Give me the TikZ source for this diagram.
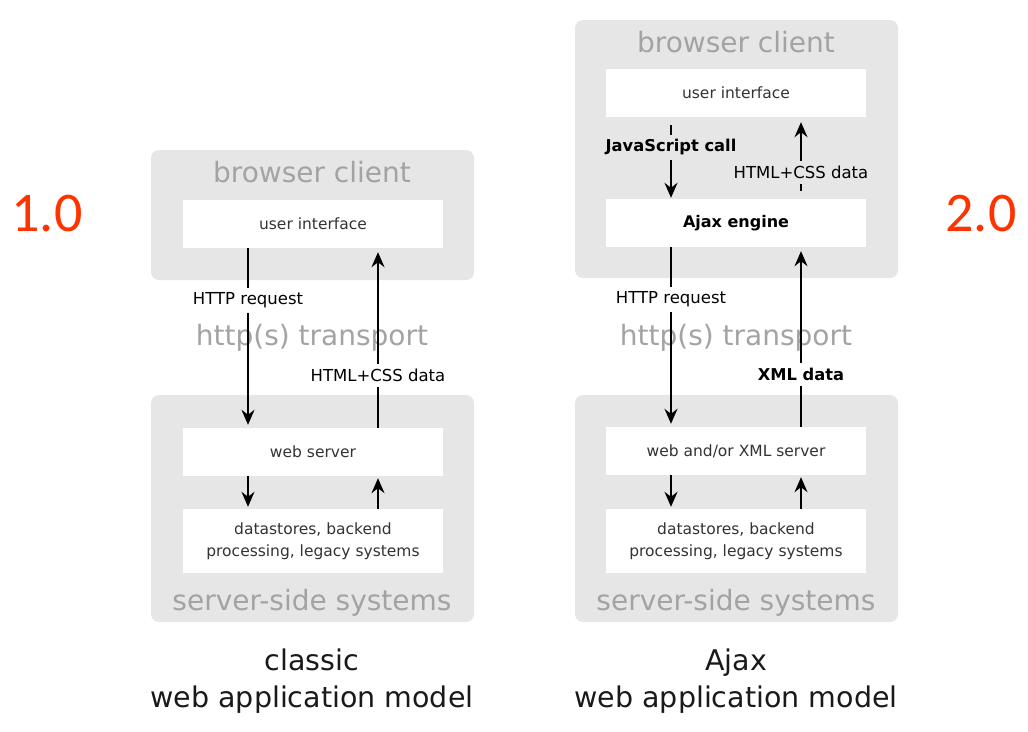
\documentclass[tikz,border=0pt]{standalone}
\usepackage{fontspec}
\setmainfont{DejaVu Sans}
\newfontfamily\digitfont{Carlito}
\usepackage{tikz}
\usetikzlibrary{arrows.meta}

\definecolor{panelgray}{RGB}{230,230,230}
\definecolor{titlegray}{RGB}{163,163,163}
\definecolor{textgray}{RGB}{51,51,51}
\definecolor{versionred}{RGB}{255,51,0}

\begin{document}
\begin{tikzpicture}[x=1pt,y=-1pt,
  panel/.style={fill=panelgray,rounded corners=8pt},
  paneltitle/.style={text=titlegray,font=\fontsize{28}{30}\selectfont},
  box/.style={fill=white,minimum width=260pt,minimum height=48pt,inner sep=0pt,
    text=textgray,font=\fontsize{15.5}{22}\selectfont,align=center},
  flow/.style={line width=2pt,-{Stealth[length=15pt,width=13pt,inset=5pt]}},
  lbl/.style={fill=white,text=black,font=\fontsize{16.5}{18}\selectfont,inner sep=5pt},
  boldlbl/.style={lbl,font=\fontsize{16.3}{18}\selectfont\bfseries},
  caption/.style={text=black!90,font=\fontsize{28.5}{37}\selectfont,align=center},
  version/.style={text=versionred,font=\digitfont\fontsize{56}{60}\selectfont}]

\useasboundingbox (0,0) rectangle (1028,731);

\fill[panel] (151,150) rectangle (474,280);
\fill[panel] (151,395) rectangle (474,622);
\fill[panel] (575,20) rectangle (898,278);
\fill[panel] (575,395) rectangle (898,622);

\node[paneltitle] (bc1) at (312,172) {browser client};
\node[paneltitle] (tr1) at (312,338) {http(s) transport};
\node[paneltitle] (ss1) at (312,603) {server-side systems};
\node[paneltitle] (bc2) at (736,42) {browser client};
\node[paneltitle] (tr2) at (736,338) {http(s) transport};
\node[paneltitle] (ss2) at (736,603) {server-side systems};

\node[box] (ui1) at (313,224) {user interface};
\node[box] (ws1) at (313,452) {web server};
\node[box,minimum height=64pt] (ds1) at (313,541) {datastores, backend\\processing, legacy systems};

\node[box] (ui2) at (736,93) {user interface};
\node[box,font=\fontsize{16}{22}\selectfont\bfseries,text=black] (aj2) at (736,223) {Ajax engine};
\node[box] (ws2) at (736,451) {web and/or XML server};
\node[box,minimum height=64pt] (ds2) at (736,541) {datastores, backend\\processing, legacy systems};

\draw[flow,shorten >=3pt] ([xshift=-65pt]ui1.south) -- node[lbl,pos=0.29]{HTTP request} ([xshift=-65pt]ws1.north);
\draw[flow,shorten >=4pt] ([xshift=65pt]ws1.north) -- node[lbl,pos=0.29]{HTML+CSS data} ([xshift=65pt]ui1.south);
\draw[flow,shorten >=2pt] ([xshift=-65pt]ws1.south) -- ([xshift=-65pt]ds1.north);
\draw[flow,shorten >=2pt] ([xshift=65pt]ds1.north) -- ([xshift=65pt]ws1.south);

\draw[flow,shorten <=8pt,shorten >=1pt] ([xshift=-65pt]ui2.south) -- node[boldlbl,fill=panelgray,pos=0.37]{JavaScript call} ([xshift=-65pt]aj2.north);
\draw[flow,shorten <=8pt,shorten >=5pt] ([xshift=65pt]aj2.north) -- node[lbl,fill=panelgray,pos=0.32]{HTML+CSS data} ([xshift=65pt]ui2.south);
\draw[flow,shorten >=3pt] ([xshift=-65pt]aj2.south) -- node[lbl,pos=0.29]{HTTP request} ([xshift=-65pt]ws2.north);
\draw[flow,shorten >=4pt] ([xshift=65pt]ws2.north) -- node[boldlbl,pos=0.29]{XML data} ([xshift=65pt]aj2.south);
\draw[flow,shorten >=2pt] ([xshift=-65pt]ws2.south) -- ([xshift=-65pt]ds2.north);
\draw[flow,shorten >=2pt] ([xshift=65pt]ds2.north) -- ([xshift=65pt]ws2.south);

\node[caption] (cap1) at (312,681) {classic\\web application model};
\node[caption] (cap2) at (736,681) {Ajax\\web application model};

\node[version] (v1) at (47,214) {1.0};
\node[version] (v2) at (981,214) {2.0};

\end{tikzpicture}
\end{document}
